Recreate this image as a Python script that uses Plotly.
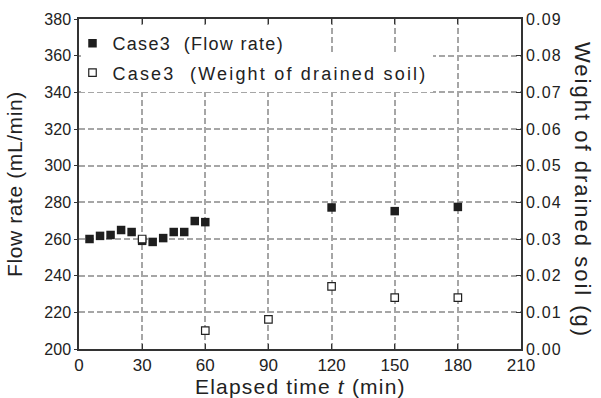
import plotly.graph_objects as go

# Flow rate measurements (Case3)
time_flow = [5, 10, 15, 20, 25, 30, 35, 40, 45, 50, 55, 60, 120, 150, 180]
flow_rate = [260.0, 261.7, 262.2, 264.9, 263.8, 259.0, 258.4, 260.5, 263.8,
             263.8, 269.8, 269.2, 277.2, 275.2, 277.5]

# Weight of drained soil (Case3)
time_soil = [30, 60, 90, 120, 150, 180]
soil_weight = [0.030, 0.0050, 0.0081, 0.0171, 0.0140, 0.0140]

# Axis ticks
x_ticks = [0, 30, 60, 90, 120, 150, 180, 210]
y_ticks = [200, 220, 240, 260, 280, 300, 320, 340, 360, 380]
y2_ticks = [0.00, 0.01, 0.02, 0.03, 0.04, 0.05, 0.06, 0.07, 0.08, 0.09]

FONT = "Arial, Liberation Sans, sans-serif"
INK = "#222222"
FRAME = "#333333"
GRID = "#a6a6a6"


def spaced(text, px):
    return f'<span style="letter-spacing:{px}px">{text}</span>'


fig = go.Figure()

fig.add_trace(go.Scatter(
    x=time_flow, y=flow_rate, mode="markers",
    name=spaced("Case3\u00a0\u00a0(Flow rate)", 1.3),
    marker=dict(symbol="square", size=8.5, color="#1e1e1e",
                line=dict(width=0)),
    legend="legend", yaxis="y",
))

fig.add_trace(go.Scatter(
    x=time_soil, y=soil_weight, mode="markers",
    name=spaced("Case3\u00a0\u00a0(Weight of drained soil)", 2.2),
    marker=dict(symbol="square", size=7.5, color="white",
                line=dict(width=1.2, color="#222222")),
    legend="legend2", yaxis="y2",
))

axis_common = dict(
    showline=True, linecolor=FRAME, linewidth=1.5,
    tickcolor=FRAME, tickwidth=1.2,
    zeroline=False,
)

legend_common = dict(
    x=1.5 / 442, xanchor="left", yanchor="top",
    bgcolor="white", borderwidth=0, indentation=-8,
    font=dict(size=18, color=INK), itemsizing="trace",
)

fig.update_layout(
    width=601, height=398,
    margin=dict(l=79, r=80, t=19, b=49),
    paper_bgcolor="white", plot_bgcolor="white",
    font=dict(family=FONT, color=INK),
    showlegend=True,
    xaxis=dict(
        range=[0, 210], tickvals=x_ticks,
        ticks="inside", ticklen=5, mirror="ticks",
        showgrid=True, gridcolor=GRID, gridwidth=1.5, griddash="6px,3px",
        tickfont=dict(size=17, color=INK),
        **axis_common,
    ),
    yaxis=dict(
        range=[200, 380], tickvals=y_ticks,
        ticks="outside", ticklen=3,
        showgrid=True, gridcolor=GRID, gridwidth=1.5, griddash="6px,3px",
        tickfont=dict(size=16, color=INK),
        **axis_common,
    ),
    yaxis2=dict(
        range=[0, 0.09], tickvals=y2_ticks,
        ticktext=[spaced(f"{v:.2f}", 1.2) for v in y2_ticks],
        overlaying="y", side="right",
        ticks="inside", ticklen=5,
        showgrid=False,
        tickfont=dict(size=16, color=INK),
        **axis_common,
    ),
    legend=dict(y=1 - 6 / 330, **legend_common),
    legend2=dict(y=1 - 35.5 / 330, **legend_common),
    annotations=[
        dict(text=spaced("Flow rate (mL/min)", 0.6), xref="paper", yref="paper",
             x=(14 - 79) / 442, y=0.5, xanchor="center", yanchor="middle",
             textangle=-90, showarrow=False, font=dict(size=21, color=INK)),
        dict(text=spaced("Weight of drained soil (g)", 2.0), xref="paper", yref="paper",
             x=(583 - 79) / 442, y=(349 - 190) / 330, xanchor="center", yanchor="middle",
             textangle=90, showarrow=False, font=dict(size=22, color=INK)),
        dict(text=spaced("Elapsed time <i>t</i> (min)", 1.2), xref="paper", yref="paper",
             x=0.5, y=(349 - 386) / 330, xanchor="center", yanchor="middle",
             showarrow=False, font=dict(size=21, color=INK)),
    ],
)

fig.write_html("out.html")
